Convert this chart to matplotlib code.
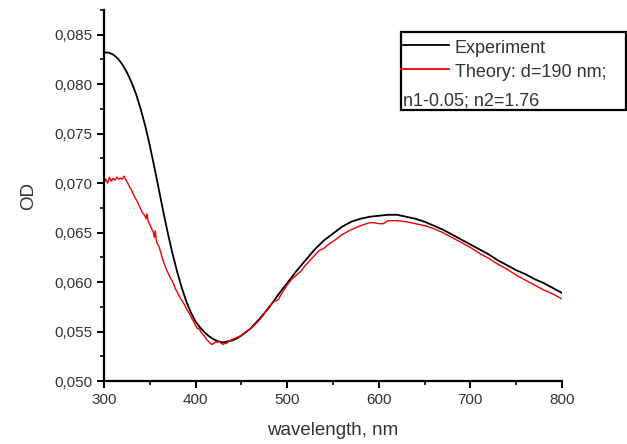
import matplotlib
matplotlib.use("Agg")
import matplotlib.pyplot as plt
from matplotlib.ticker import MultipleLocator, FuncFormatter
from matplotlib.lines import Line2D
from matplotlib.patches import Rectangle

# experiment curve (black)
exp_wl = [300, 305, 310, 315, 320, 325, 330, 335, 340, 345, 350, 355, 360, 365,
          370, 375, 380, 385, 390, 395, 400, 405, 410, 415, 420, 425, 430, 435,
          440, 445, 450, 460, 470, 480, 490, 500, 510, 520, 530, 540, 550, 560,
          570, 580, 590, 600, 610, 620, 630, 640, 650, 660, 670, 680, 690, 700,
          710, 720, 730, 740, 750, 760, 770, 780, 790, 800]
exp_od = [0.0832, 0.0832, 0.0830, 0.0826, 0.0820, 0.0812, 0.0802, 0.0790,
          0.0775, 0.0758, 0.0738, 0.0716, 0.0693, 0.0670, 0.0648, 0.0628,
          0.0610, 0.0594, 0.0580, 0.0569, 0.0560, 0.0554, 0.0549, 0.0545,
          0.0542, 0.0540, 0.0539, 0.0540, 0.0541, 0.0543, 0.0546, 0.0553,
          0.0563, 0.0574, 0.0587, 0.0599, 0.0611, 0.0622, 0.0633, 0.0642,
          0.0649, 0.0656, 0.0661, 0.0664, 0.0666, 0.0667, 0.0668, 0.0668,
          0.0666, 0.0664, 0.0661, 0.0657, 0.0653, 0.0648, 0.0643, 0.0638,
          0.0633, 0.0628, 0.0622, 0.0617, 0.0612, 0.0608, 0.0603, 0.0599,
          0.0594, 0.0589]

# theory curve (red)
th_wl = [300, 302, 304, 306, 308, 310, 312, 314, 316, 318, 320, 322, 324, 326,
         328, 330, 332, 334, 336, 338, 340, 342, 344, 346, 347, 348, 350, 352,
         354, 355, 356, 357, 358, 360, 362, 364, 366, 368, 370, 372, 374, 376,
         378, 380, 382, 384, 386, 388, 390, 392, 394, 396, 398, 400, 402, 404,
         406, 408, 410, 412, 414, 416, 418, 420, 422, 424, 426, 428, 430, 432,
         434, 436, 438, 440, 445, 450, 455, 460, 465, 470, 475, 480, 485, 490,
         495, 500, 505, 510, 515, 520, 525, 530, 535, 540, 545, 550, 560, 570,
         580, 590, 595, 600, 605, 610, 620, 630, 640, 650, 660, 670, 680, 690,
         700, 710, 720, 730, 740, 750, 760, 770, 780, 790, 800]
th_od = [0.0701, 0.0704, 0.0700, 0.0706, 0.0702, 0.0705, 0.0703, 0.0706,
         0.0704, 0.0705, 0.0704, 0.0707, 0.0703, 0.0700, 0.0696, 0.0693,
         0.0689, 0.0685, 0.0682, 0.0678, 0.0674, 0.0670, 0.0668, 0.0664,
         0.0669, 0.0662, 0.0658, 0.0654, 0.0650, 0.0645, 0.0652, 0.0643,
         0.0639, 0.0636, 0.0630, 0.0623, 0.0618, 0.0613, 0.0609, 0.0605,
         0.0602, 0.0598, 0.0593, 0.0590, 0.0586, 0.0583, 0.0580, 0.0577,
         0.0573, 0.0570, 0.0567, 0.0563, 0.0560, 0.0556, 0.0553, 0.0553,
         0.0549, 0.0547, 0.0545, 0.0542, 0.0540, 0.0538, 0.0537, 0.0538,
         0.0540, 0.0539, 0.0540, 0.0538, 0.0537, 0.0538, 0.0538, 0.0540,
         0.0541, 0.0542, 0.0544, 0.0546, 0.0549, 0.0553, 0.0557, 0.0562,
         0.0568, 0.0575, 0.0580, 0.0582, 0.0590, 0.0597, 0.0603, 0.0607,
         0.0611, 0.0617, 0.0622, 0.0627, 0.0632, 0.0634, 0.0638, 0.0641,
         0.0648, 0.0653, 0.0657, 0.0660, 0.0660, 0.0659, 0.0659, 0.0662,
         0.0662, 0.0661, 0.0659, 0.0657, 0.0654, 0.0650, 0.0645, 0.0640,
         0.0635, 0.0629, 0.0624, 0.0618, 0.0613, 0.0607, 0.0602, 0.0597,
         0.0592, 0.0588, 0.0583]

legend_labels = ["Experiment", "Theory: d=190 nm;", "n1-0.05; n2=1.76"]

plt.rcParams["font.family"] = ["Liberation Sans", "DejaVu Sans"]
txt = "#333333"

fig = plt.figure(figsize=(6.27, 4.44), dpi=100)
ax = fig.add_axes([104 / 627, 63 / 444, 458 / 627, 371 / 444])

ax.plot(exp_wl, exp_od, color="black", lw=1.3)
ax.plot(th_wl, th_od, color="#ee0000", lw=1.0)

ax.set_xlim(300, 800)
ax.set_ylim(0.050, 0.0875)
ax.spines["top"].set_visible(False)
ax.spines["right"].set_visible(False)
for s in ("left", "bottom"):
    ax.spines[s].set_linewidth(1.6)

ax.xaxis.set_major_locator(MultipleLocator(100))
ax.xaxis.set_minor_locator(MultipleLocator(50))
ax.yaxis.set_major_locator(MultipleLocator(0.005))
ax.yaxis.set_minor_locator(MultipleLocator(0.0025))
ax.yaxis.set_major_formatter(FuncFormatter(lambda v, p: ("%.3f" % v).replace(".", ",")))
ax.tick_params(which="major", length=5, width=1.4, labelsize=11, labelcolor=txt)
ax.tick_params(which="minor", length=3, width=1.2)
ax.set_xlabel("wavelength, nm", fontsize=13.5, color=txt, labelpad=11)
ax.set_ylabel("OD", fontsize=13.5, color=txt, labelpad=12)

# hand drawn legend box like the original
fig.patches.append(Rectangle((401 / 627, 1 - 110 / 444), 225 / 627, 78 / 444,
                             transform=fig.transFigure, fill=False,
                             edgecolor="black", lw=1.6))
fig.lines.append(Line2D([401 / 627, 449 / 627], [1 - 45 / 444] * 2,
                        transform=fig.transFigure, color="black", lw=1.3))
fig.lines.append(Line2D([401 / 627, 449 / 627], [1 - 69.5 / 444] * 2,
                        transform=fig.transFigure, color="#ee0000", lw=1.3))
fig.text(455 / 627, 1 - 53 / 444, legend_labels[0], fontsize=13, color=txt, va="baseline")
fig.text(455 / 627, 1 - 77 / 444, legend_labels[1], fontsize=13, color=txt, va="baseline")
fig.text(403 / 627, 1 - 105 / 444, legend_labels[2], fontsize=13, color=txt, va="baseline")

fig.savefig("out.png", dpi=100)
